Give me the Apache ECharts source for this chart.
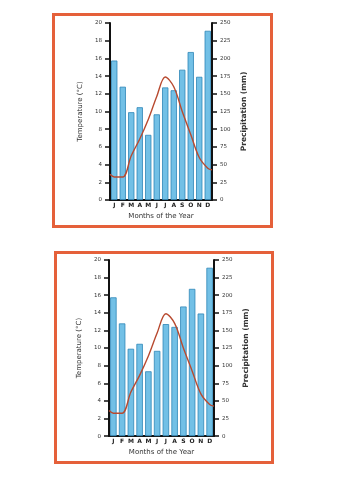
<!DOCTYPE html>
<html><head><meta charset="utf-8">
<script src="https://cdn.jsdelivr.net/npm/echarts@6/dist/echarts.min.js"></script>
<style>
html,body{margin:0;padding:0;background:#fff;width:353px;height:500px;overflow:hidden;}
.panel{position:absolute;box-sizing:border-box;border:3px solid #e5603a;background:#fff;}
.panel div.c{position:absolute;left:0;top:0;right:0;bottom:0;}
</style></head>
<body>
<div class="panel" id="p1" style="left:52px;top:13px;width:221px;height:215px;"><div class="c" id="c1"></div></div>
<div class="panel" id="p2" style="left:54px;top:251px;width:220px;height:213px;"><div class="c" id="c2"></div></div>
<script>
const months = ['J','F','M','A','M','J','J','A','S','O','N','D'];
const precipitation = [197, 160, 124, 131, 92, 121, 159, 155, 184, 209, 174, 239];
const temperature = [2.6, 2.6, 5.0, 6.9, 9.1, 11.7, 13.9, 12.8, 10.0, 7.4, 4.8, 3.6];
const tempStart = 2.9;
const tempEnd = 3.4;
const tempTicks = [0, 2, 4, 6, 8, 10, 12, 14, 16, 18, 20];
const precipTicks = [0, 25, 50, 75, 100, 125, 150, 175, 200, 225, 250];

function lineData(){
  const d = [[0, tempStart]];
  temperature.forEach((t,i)=>d.push([i+0.5, t]));
  d.push([months.length, tempEnd]);
  return d;
}

function makeOption(g){
  const axisLine = {show:true, lineStyle:{color:'#111', width:2}};
  const lbl = {fontSize:5.5, color:'#333', fontFamily:'DejaVu Sans'};
  return {
    animation:false,
    grid:{left:g.left, right:g.right, top:g.top, bottom:g.bottom, containLabel:false},
    xAxis:[
      {type:'category', data:months, axisLine:axisLine, axisTick:{show:false},
       axisLabel:{fontSize:6, fontWeight:'bold', color:'#222', margin:2, fontFamily:'DejaVu Sans', interval:0},
       name:'Months of the Year', nameLocation:'middle', nameGap:12,
       nameTextStyle:{fontSize:7, color:'#333', fontFamily:'DejaVu Sans'}},
      {type:'value', min:0, max:months.length, show:false}
    ],
    yAxis:[
      {type:'value', min:tempTicks[0], max:tempTicks[tempTicks.length-1], interval:2, position:'left',
       axisLine:axisLine, axisTick:{show:true, length:5, lineStyle:{color:'#111', width:1.5}},
       axisLabel:Object.assign({margin:8}, lbl), splitLine:{show:false},
       name:'Temperature (°C)', nameLocation:'middle', nameGap:26, nameRotate:90,
       nameTextStyle:{fontSize:7, color:'#333', fontFamily:'DejaVu Sans'}},
      {type:'value', min:precipTicks[0], max:precipTicks[precipTicks.length-1], interval:25, position:'right',
       axisLine:axisLine, axisTick:{show:true, length:5, lineStyle:{color:'#111', width:1.5}},
       axisLabel:Object.assign({margin:8}, lbl), splitLine:{show:false},
       name:'Precipitation (mm)', nameLocation:'middle', nameGap:28, nameRotate:90,
       nameTextStyle:{fontSize:7.5, color:'#333', fontFamily:'DejaVu Sans', fontWeight:'bold'}}
    ],
    series:[
      {type:'bar', xAxisIndex:0, yAxisIndex:1, data:precipitation, barCategoryGap:'26%',
       itemStyle:{color:'#72c0e6', borderColor:'#2f86b8', borderWidth:0.8}},
      {type:'line', xAxisIndex:1, yAxisIndex:0, data:lineData(), smooth:0.35, showSymbol:false,
       lineStyle:{color:'#b84a30', width:1.4}, z:5}
    ]
  };
}

const c1 = echarts.init(document.getElementById('c1'));
c1.setOption(makeOption({left:55, right:58, top:7, bottom:25}));
const c2 = echarts.init(document.getElementById('c2'));
c2.setOption(makeOption({left:52, right:57, top:6, bottom:23}));
</script>
</body></html>
